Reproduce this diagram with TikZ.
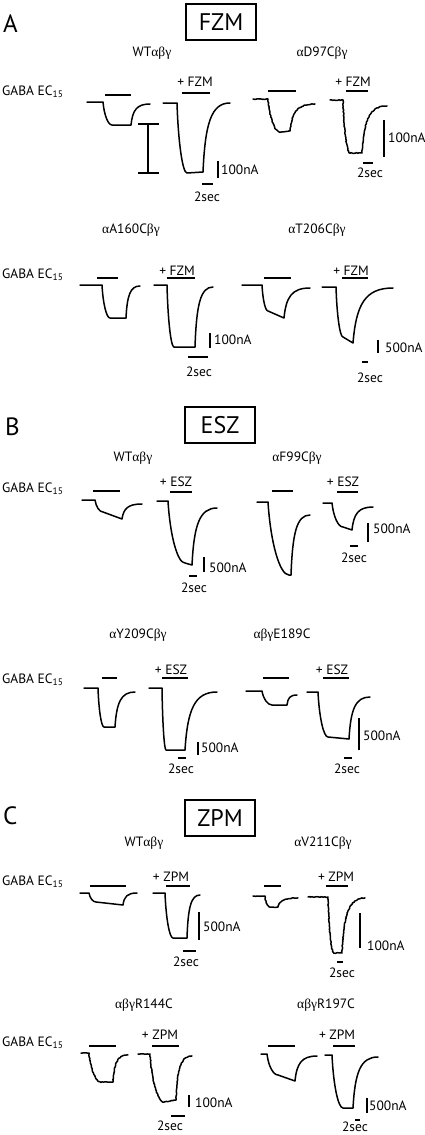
\documentclass[tikz,border=0pt]{standalone}
\usepackage{fontspec}
\setmainfont{PT Sans}
\newfontfamily\gk{Liberation Serif}
\usetikzlibrary{decorations.pathmorphing}
\newcommand\abg{{\gk αβγ}}
\newcommand\al{{\gk α}}
\newcommand\bg{{\gk βγ}}
% x0 xs xd yb yp xr yr xe ye
\newcommand\mytrace[9]{%
\draw[trace,tx] (#1,#4) -- (#2,#4) .. controls ({#2+0.12*(#3-#2)},{#4+0.55*(#5-#4)}) and ({#2+0.55*(#3-#2)},#5) .. (#3,#5) -- (#6,#7) .. controls ({#6+0.08*(#8-#6)},{#7+0.7*(#9-#7)}) and ({#6+0.3*(#8-#6)},#9) .. (#8,#9);}
\tikzset{
  trace/.style={line width=1.5pt, line join=round, line cap=round},
  tx/.style={},
  noisy/.style={decorate, decoration={random steps, segment length=1.3pt, amplitude=0.35pt}},
  bar/.style={line width=2.6pt},
  sbar/.style={line width=1.9pt},
  lbl/.style={inner sep=0pt, font=\fontsize{13.5}{15}\selectfont},
  scl/.style={inner sep=0pt, anchor=west, font=\fontsize{13.5}{15}\selectfont},
  tsec/.style={inner sep=0pt, font=\fontsize{13.5}{15}\selectfont},
  gaba/.style={inner sep=0pt, anchor=west, font=\fontsize{13.5}{15}\selectfont},
  panel/.style={inner sep=0pt, anchor=west, font=\fontsize{25}{28}\selectfont},
  drug/.style={draw, line width=1.1pt, inner sep=0pt, minimum width=70pt, minimum height=36pt, font=\fontsize{24}{27}\selectfont},
}
\begin{document}
\begin{tikzpicture}[x=1pt,y=-1pt]
\useasboundingbox (0,0) rectangle (425,1135);
% ================= A =================
\node[panel] (pA) at (3,24) {A};
\node[drug] (bFZM) at (221,22) {FZM};
\node[lbl] (tA1) at (152,53) {WT\abg};
\node[lbl] (tA2) at (322,53) {\al D97C\bg};
\node[gaba] (gA1) at (2,92) {GABA EC\textsubscript{15}};
\node[lbl] (dA1) at (195,82) {+ FZM};
\node[lbl] (dA2) at (353,82) {+ FZM};
\draw[bar] (105,95) -- (131,95);
\draw[bar] (182,93) -- (210,93);
\draw[bar] (268,91) -- (296,91);
\draw[bar] (346,91) -- (368,91);
\mytrace{87}{103}{112}{102}{125}{131}{125}{150}{104}
\mytrace{163}{177}{187}{103}{173}{203}{172}{230}{103}
\begin{scope}[tx/.style=noisy]
\mytrace{253}{268}{280}{99}{132}{290}{131}{315}{104}
\mytrace{330}{343}{350}{100}{153}{362}{153}{387}{106}
\end{scope}
\draw[sbar] (148,124) -- (148,173) (138,124) -- (159,124) (138,173) -- (159,173);
\draw[sbar] (218,161) -- (218,178);
\draw[sbar] (202,184) -- (213,184);
\node[scl] (sA1) at (221,170) {100nA};
\node[tsec] (uA1) at (207,197) {2sec};
\draw[sbar] (384,120) -- (384,157);
\draw[sbar] (363,163) -- (373,163);
\node[scl] (sA2) at (388,138) {100nA};
\node[tsec] (uA2) at (370,173) {2sec};
% row 2
\node[lbl] (tA3) at (131,230) {\al A160C\bg};
\node[lbl] (tA4) at (317,230) {\al T206C\bg};
\node[gaba] (gA2) at (2,275) {GABA EC\textsubscript{15}};
\node[lbl] (dA3) at (177,271) {+ FZM};
\node[lbl] (dA4) at (351,271) {+ FZM};
\draw[bar] (97,278) -- (118,278);
\draw[bar] (167,278) -- (195,278);
\draw[bar] (264,278) -- (291,278);
\draw[bar] (342,278) -- (368,278);
\mytrace{80}{102}{110}{285}{318}{126}{318}{140}{286}
\mytrace{154}{167}{174}{285}{347}{195}{347}{213}{287}
\mytrace{242}{262}{268}{285}{311}{284}{318}{310}{288}
\mytrace{322}{336}{343}{287}{337}{353}{343}{393}{288}
\draw[sbar] (210,333) -- (210,348);
\draw[sbar] (188,357) -- (208,357);
\node[scl] (sA3) at (214,340) {100nA};
\node[tsec] (uA3) at (199,372) {2sec};
\draw[sbar] (378,340) -- (378,353);
\draw[sbar] (362,362) -- (368,362);
\node[scl] (sA4) at (385,348) {500nA};
\node[tsec] (uA4) at (370,378) {2sec};
% ================= B =================
\node[panel] (pB) at (5,427) {B};
\node[drug] (bESZ) at (220,425) {ESZ};
\node[lbl] (tB1) at (133,458) {WT\abg};
\node[lbl] (tB2) at (297,458) {\al F99C\bg};
\node[gaba] (gB1) at (2,489) {GABA EC\textsubscript{15}};
\node[lbl] (dB1) at (176,482) {+ ESZ};
\node[lbl] (dB2) at (343,482) {+ ESZ};
\draw[bar] (93,491) -- (120,491);
\draw[bar] (170,492) -- (192,492);
\draw[bar] (272,491) -- (293,491);
\draw[bar] (337,492) -- (358,492);
\mytrace{82}{95}{103}{500}{512}{122}{519}{142}{504}
\mytrace{157}{168}{185}{501}{563}{192}{565}{217}{508}
\mytrace{257}{268}{289}{502}{575}{291}{575}{310}{515}
\mytrace{323}{332}{343}{503}{527}{352}{530}{373}{507}
\draw[sbar] (204,557) -- (204,572);
\draw[sbar] (189,576) -- (197,576);
\node[scl] (sB1) at (209,568) {500nA};
\node[tsec] (uB1) at (194,588) {2sec};
\draw[sbar] (368,523) -- (368,542);
\draw[sbar] (350,546) -- (358,546);
\node[scl] (sB2) at (373,529) {500nA};
\node[tsec] (uB2) at (354,558) {2sec};
% row 2
\node[lbl] (tB3) at (138,635) {\al Y209C\bg};
\node[lbl] (tB4) at (282,635) {\abg E189C};
\node[gaba] (gB2) at (2,680) {GABA EC\textsubscript{15}};
\node[lbl] (dB3) at (171,670) {+ ESZ};
\node[lbl] (dB4) at (332,670) {+ ESZ};
\draw[bar] (102,678) -- (117,678);
\draw[bar] (162,678) -- (188,678);
\draw[bar] (263,678) -- (289,678);
\draw[bar] (323,678) -- (349,678);
\mytrace{84}{98}{104}{688}{727}{115}{727}{135}{692}
\mytrace{149}{162}{166}{688}{750}{185}{750}{217}{692}
\mytrace{246}{262}{272}{691}{705}{287}{705}{297}{695}
\mytrace{307}{318}{328}{692}{737}{349}{739}{370}{697}
\draw[sbar] (198,742) -- (198,755);
\draw[sbar] (178,758) -- (186,758);
\node[scl] (sB3) at (201,748) {500nA};
\node[tsec] (uB3) at (181,769) {2sec};
\draw[sbar] (359,718) -- (359,750);
\draw[sbar] (344,758) -- (352,758);
\node[scl] (sB4) at (363,736) {500nA};
\node[tsec] (uB4) at (347,769) {2sec};
% ================= C =================
\node[panel] (pC) at (3,816) {C};
\node[drug] (bZPM) at (220,818) {ZPM};
\node[lbl] (tC1) at (144,843) {WT\abg};
\node[lbl] (tC2) at (323,843) {\al V211C\bg};
\node[gaba] (gC1) at (2,882) {GABA EC\textsubscript{15}};
\node[lbl] (dC1) at (171,877) {+ ZPM};
\node[lbl] (dC2) at (336,877) {+ ZPM};
\draw[bar] (90,886) -- (126,886);
\draw[bar] (166,886) -- (190,886);
\draw[bar] (264,886) -- (281,886);
\draw[bar] (326,886) -- (348,886);
\mytrace{80}{89}{96}{893}{902}{123}{905}{137}{893}
\mytrace{153}{165}{173}{893}{938}{187}{938}{200}{895}
\begin{scope}[tx/.style=noisy]
\mytrace{253}{265}{270}{896}{907}{278}{907}{298}{898}
\mytrace{308}{328}{334}{897}{953}{342}{953}{365}{898}
\end{scope}
\draw[sbar] (199,912) -- (199,940);
\draw[sbar] (183,951) -- (196,951);
\node[scl] (sC1) at (203,927) {500nA};
\node[tsec] (uC1) at (186,962) {2sec};
\draw[sbar] (360,913) -- (360,948);
\draw[sbar] (337,962) -- (343,962);
\node[scl] (sC2) at (367,946) {100nA};
\node[tsec] (uC2) at (342,973) {2sec};
% row 2
\node[lbl] (tC3) at (144,1005) {\abg R144C};
\node[lbl] (tC4) at (326,1005) {\abg R197C};
\node[gaba] (gC2) at (2,1043) {GABA EC\textsubscript{15}};
\node[lbl] (dC3) at (160,1035) {+ ZPM};
\node[lbl] (dC4) at (337,1035) {+ ZPM};
\draw[bar] (89,1046) -- (116,1046);
\draw[bar] (152,1046) -- (179,1046);
\draw[bar] (268,1046) -- (295,1046);
\draw[bar] (333,1046) -- (355,1046);
\begin{scope}[tx/.style=noisy]
\mytrace{81}{89}{101}{1053}{1082}{113}{1082}{128}{1055}
\mytrace{138}{150}{164}{1054}{1102}{176}{1100}{192}{1056}
\end{scope}
\mytrace{261}{267}{278}{1054}{1075}{295}{1081}{317}{1056}
\mytrace{325}{332}{343}{1055}{1108}{353}{1108}{378}{1057}
\draw[sbar] (189,1095) -- (189,1107);
\draw[sbar] (171,1116) -- (185,1116);
\node[scl] (sC3) at (195,1103) {100nA};
\node[tsec] (uC3) at (170,1126) {2sec};
\draw[sbar] (367,1098) -- (367,1113);
\draw[sbar] (355,1120) -- (360,1120);
\node[scl] (sC4) at (369,1106) {500nA};
\node[tsec] (uC4) at (355,1127) {2sec};
\end{tikzpicture}
\end{document}
